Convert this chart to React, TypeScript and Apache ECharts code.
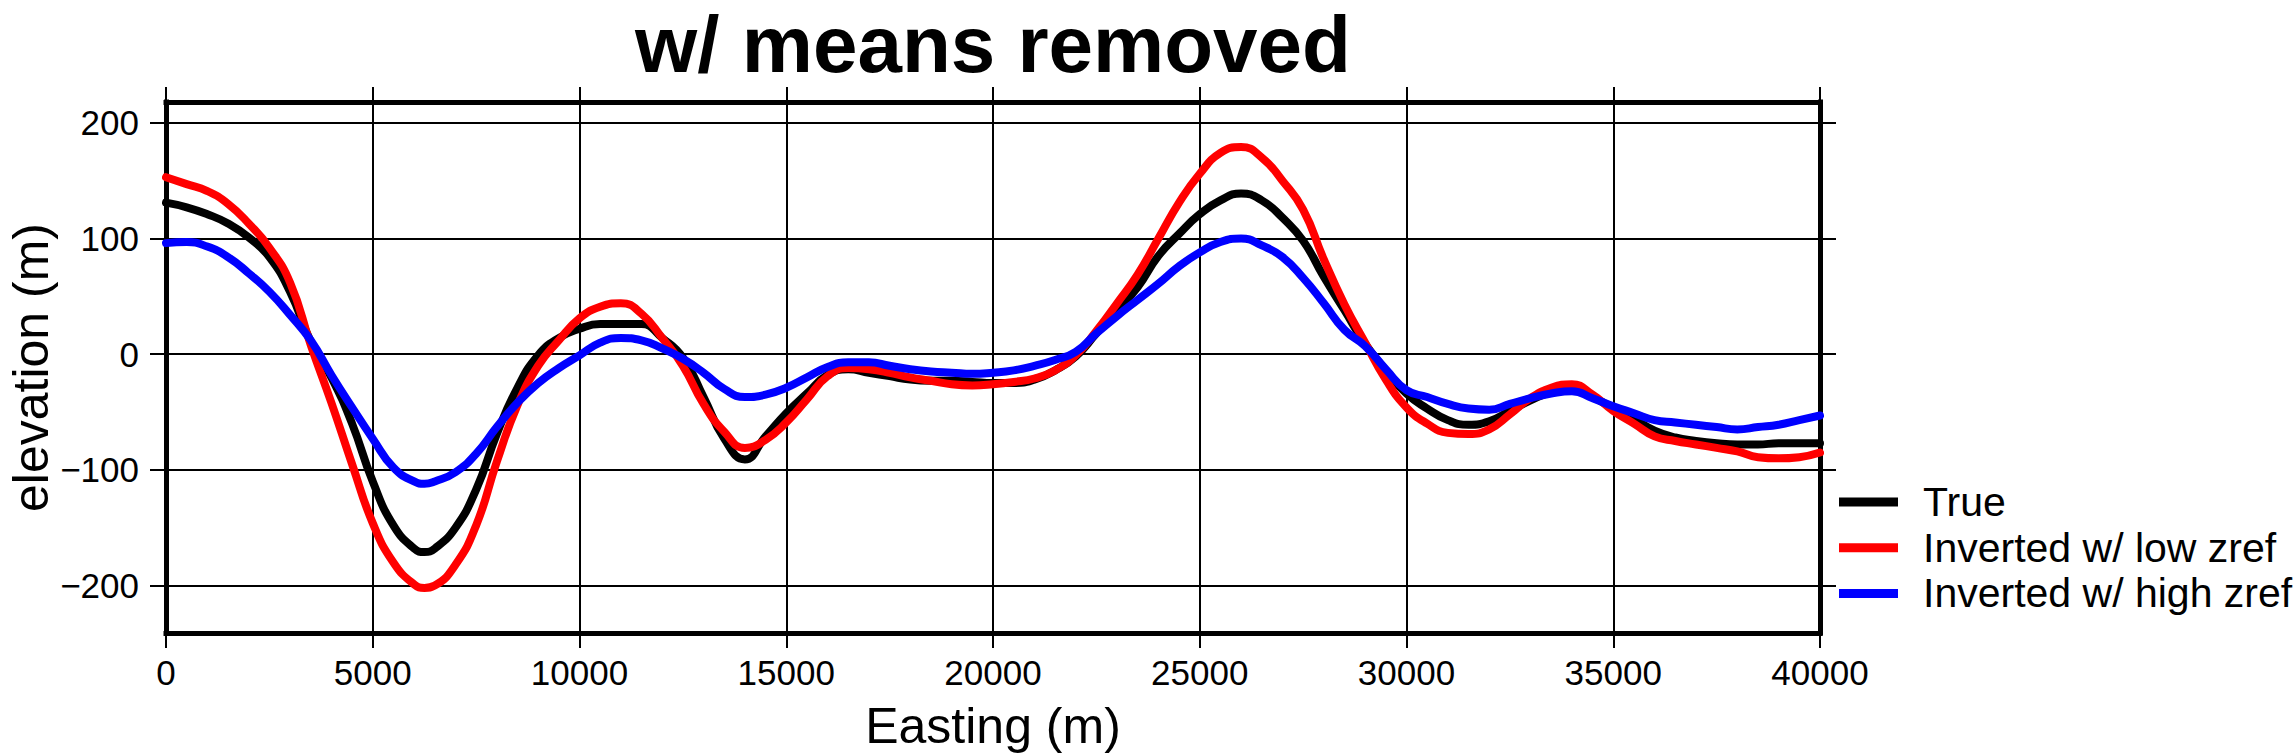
import { useEffect, useRef } from "react";
import * as echarts from "echarts";

// Easting of each profile sample (m)
const EASTING = [
  0, 500, 1000, 1500, 2000, 2500, 3000, 3500, 4000, 4500, 5000, 5500, 6000, 6250, 6500,
  7000, 7500, 8000, 8500, 9000, 9500, 10000, 10500, 11000, 11500, 12000, 12500, 13000,
  13500, 14000, 14500, 15000, 15500, 16000, 16500, 17000, 17500, 18000, 18500, 19000,
  19500, 20000, 20500, 21000, 21500, 22000, 22500, 23000, 23500, 24000, 24500, 25000,
  25500, 26000, 26500, 27000, 27500, 28000, 28500, 29000, 29500, 30000, 30500, 31000,
  31500, 32000, 32500, 33000, 33500, 34000, 34500, 35000, 35500, 36000, 36500, 37000,
  37500, 38000, 38500, 39000, 39500, 40000,
];

// True topography, mean removed (m)
const TRUE_ELEV = [
  131, 127, 121, 113, 101, 84, 54, 11, -20, -60, -110, -148, -168, -171, -168,
  -150, -117, -69, -29, -1, 14, 22, 26, 26, 26, 14, -3, -37,
  -73, -91, -71, -51, -34, -18, -13, -16, -19, -22, -23, -23,
  -24, -25, -25, -22, -14, -2, 18, 38, 58, 85, 104, 121,
  133, 139, 133, 118, 98, 67, 38, 9, -14, -34, -47, -57,
  -61, -58, -49, -40, -33, -31, -37, -47, -56, -66, -72, -75,
  -77, -78, -78, -77, -77, -77,
];

// Inversion with the low reference level, mean removed (m)
const LOW_ZREF = [
  153, 147, 141, 130, 113, 92, 62, 8, -42, -95, -146, -180, -199, -202, -200,
  -182, -148, -93, -44, -10, 12, 31, 41, 44, 35, 14, -10, -43,
  -67, -81, -74, -59, -39, -19, -12, -13, -16, -20, -23, -26,
  -27, -26, -24, -21, -14, -1, 20, 44, 69, 100, 131, 156,
  174, 179, 170, 150, 125, 82, 43, 10, -22, -46, -60, -68,
  -69, -65, -52, -38, -29, -26, -35, -49, -60, -71, -75, -78,
  -81, -84, -89, -90, -89, -85,
];

// Inversion with the high reference level, mean removed (m)
const HIGH_ZREF = [
  96, 97, 93, 84, 70, 54, 34, 12, -18, -46, -73, -98, -110, -112, -110,
  -102, -86, -63, -42, -25, -12, -1, 10, 14, 12, 5, -4, -16,
  -30, -37, -35, -29, -20, -11, -7, -7, -10, -13, -15, -16,
  -17, -16, -14, -10, -5, 2, 18, 33, 47, 61, 76, 88,
  97, 100, 94, 84, 66, 44, 21, 7, -13, -31, -37, -43,
  -47, -48, -43, -38, -34, -32, -38, -45, -51, -57, -59, -61,
  -63, -65, -63, -61, -57, -53,
];

const SERIES_NAMES = ["True", "Inverted w/ low zref", "Inverted w/ high zref"];
const SERIES_COLORS = ["#000000", "#ff0000", "#0000ff"];
const SERIES_VALUES = [TRUE_ELEV, LOW_ZREF, HIGH_ZREF];

const X_MIN = 0;
const X_MAX = 40000;
const X_STEP = 5000;
const Y_MIN = -241;
const Y_MAX = 218;
const Y_TICKS = [-200, -100, 0, 100, 200];

const TITLE = "w/ means removed";
const X_NAME = "Easting (m)";
const Y_NAME = "elevation (m)";

const FONT = "'Liberation Sans', Arial, Helvetica, sans-serif";

// Plot frame in page pixels
const GRID = { left: 166, top: 102, right: 474, bottom: 122 };

const fmt = (v: number) => (v < 0 ? "\u2212" + String(-v) : String(v));

export default function App() {
  const ref = useRef<HTMLDivElement>(null);

  useEffect(() => {
    if (!ref.current) return;
    const chart = echarts.init(ref.current, null, { renderer: "svg" });

    const frameLine = { color: "#000", width: 5, cap: "square" as const };
    const tickLine = { color: "#000", width: 2 };
    const plotCenterX = GRID.left + (2294 - GRID.left - GRID.right) / 2;
    const plotCenterY = GRID.top + (755 - GRID.top - GRID.bottom) / 2;

    const legendX = 1839;
    const legendY = 502;
    const legendStep = 45.7;

    const legendItems: any[] = [];
    SERIES_NAMES.forEach((name, i) => {
      legendItems.push({
        type: "rect",
        shape: { x: legendX, y: legendY + i * legendStep - 4.5, width: 59, height: 9 },
        style: { fill: SERIES_COLORS[i] },
      });
      legendItems.push({
        type: "text",
        x: legendX + 84,
        y: legendY + i * legendStep,
        style: {
          text: name,
          font: `41px ${FONT}`,
          fill: "#000",
          textAlign: "left",
          textVerticalAlign: "middle",
        },
      });
    });

    chart.setOption({
      animation: false,
      backgroundColor: "#ffffff",
      grid: { ...GRID, containLabel: false, outerBoundsMode: "none" },
      xAxis: [
        {
          type: "value",
          position: "bottom",
          min: X_MIN,
          max: X_MAX,
          interval: X_STEP,
          axisLine: { show: true, onZero: false, lineStyle: frameLine },
          axisTick: { show: true, inside: false, length: 15, lineStyle: tickLine },
          axisLabel: {
            show: true,
            margin: 22,
            color: "#000",
            fontSize: 35,
            fontFamily: FONT,
            formatter: (v: number) => fmt(v),
          },
          splitLine: { show: true, lineStyle: { color: "#000", width: 2 } },
        },
        {
          type: "value",
          position: "top",
          min: X_MIN,
          max: X_MAX,
          interval: X_STEP,
          axisLine: { show: true, onZero: false, lineStyle: frameLine },
          axisTick: { show: true, inside: false, length: 15, lineStyle: tickLine },
          axisLabel: { show: false },
          splitLine: { show: false },
        },
      ],
      yAxis: [
        {
          type: "value",
          position: "left",
          min: Y_MIN,
          max: Y_MAX,
          axisLine: { show: true, onZero: false, lineStyle: frameLine },
          axisTick: {
            show: true,
            inside: false,
            length: 16,
            lineStyle: tickLine,
            customValues: Y_TICKS,
          },
          axisLabel: {
            show: true,
            margin: 27,
            color: "#000",
            fontSize: 35,
            fontFamily: FONT,
            customValues: Y_TICKS,
            formatter: (v: number) => fmt(v),
          },
          splitLine: { show: true, lineStyle: { color: "#000", width: 2 } },
        },
        {
          type: "value",
          position: "right",
          min: Y_MIN,
          max: Y_MAX,
          axisLine: { show: true, onZero: false, lineStyle: frameLine },
          axisTick: {
            show: true,
            inside: false,
            length: 16,
            lineStyle: tickLine,
            customValues: Y_TICKS,
          },
          axisLabel: { show: false },
          splitLine: { show: false },
        },
      ],
      series: SERIES_NAMES.map((name, i) => ({
        name,
        type: "line",
        xAxisIndex: 0,
        yAxisIndex: 0,
        showSymbol: false,
        symbol: "none",
        smooth: 0.5,
        silent: true,
        clip: true,
        z: 3 + i,
        lineStyle: { color: SERIES_COLORS[i], width: 8, cap: "round", join: "round" },
        data: EASTING.map((x, k) => [x, SERIES_VALUES[i][k]]),
      })),
      graphic: [
        {
          type: "text",
          x: plotCenterX,
          y: 44,
          style: {
            text: TITLE,
            font: `bold 80px ${FONT}`,
            fill: "#000",
            textAlign: "center",
            textVerticalAlign: "middle",
          },
        },
        {
          type: "text",
          x: plotCenterX,
          y: 726,
          style: {
            text: X_NAME,
            font: `50px ${FONT}`,
            fill: "#000",
            textAlign: "center",
            textVerticalAlign: "middle",
          },
        },
        {
          type: "text",
          x: 31,
          y: plotCenterY,
          rotation: Math.PI / 2,
          style: {
            text: Y_NAME,
            font: `50px ${FONT}`,
            fill: "#000",
            textAlign: "center",
            textVerticalAlign: "middle",
          },
        },
        ...legendItems,
      ],
    });

    return () => chart.dispose();
  }, []);

  return (
    <div
      ref={ref}
      style={{ position: "absolute", left: 0, top: 0, width: 2294, height: 755, background: "#fff" }}
    />
  );
}
